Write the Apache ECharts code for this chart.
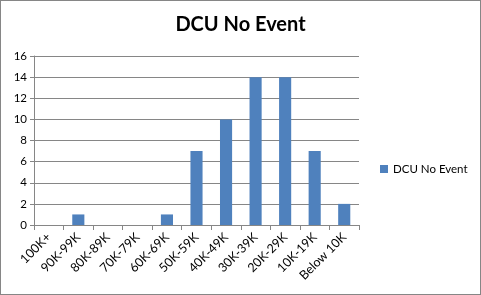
<!DOCTYPE html>
<html><head><meta charset="utf-8">
<script src="https://cdn.jsdelivr.net/npm/echarts@6/dist/echarts.min.js"></script>
<style>html,body{margin:0;padding:0;background:#fff}#c{width:481px;height:295px;box-sizing:border-box;border:1px solid #868686}</style>
</head><body><div id="c"></div>
<script>
const categories = ["100K+","90K-99K","80K-89K","70K-79K","60K-69K","50K-59K","40K-49K","30K-39K","20K-29K","10K-19K","Below 10K"];
const values = [0,1,0,0,1,7,10,14,14,7,2];
const seriesName = "DCU No Event";
const chartTitle = "DCU No Event";
const chart = echarts.init(document.getElementById('c'));
const font = "Lato, 'Open Sans', sans-serif";
chart.setOption({
  animation:false,
  title:{text:chartTitle,left:'center',top:9,textStyle:{fontFamily:font,fontSize:20,fontWeight:'bold',color:'#000'}},
  legend:{left:374,top:157,orient:'vertical',itemWidth:8,itemHeight:8,itemGap:4,icon:'rect',
    textStyle:{fontFamily:font,fontSize:11.5,color:'#000'},data:[seriesName]},
  grid:{left:33,top:55,width:325,height:169,containLabel:false},
  xAxis:{type:'category',data:categories,
    axisLine:{lineStyle:{color:'#868686'}},
    axisTick:{show:true,alignWithLabel:false,length:5,lineStyle:{color:'#868686'}},
    axisLabel:{rotate:45,interval:0,fontFamily:font,fontSize:12.5,color:'#000',margin:10}},
  yAxis:{type:'value',min:0,max:16,interval:2,
    axisLine:{show:true,lineStyle:{color:'#868686'}},
    axisTick:{show:true,length:4,lineStyle:{color:'#868686'}},
    splitLine:{lineStyle:{color:'#868686'}},
    axisLabel:{fontFamily:font,fontSize:11.5,color:'#000',margin:7}},
  series:[{name:seriesName,type:'bar',data:values,barWidth:'41%',itemStyle:{color:'#4f81bd'}}]
});
</script></body></html>
